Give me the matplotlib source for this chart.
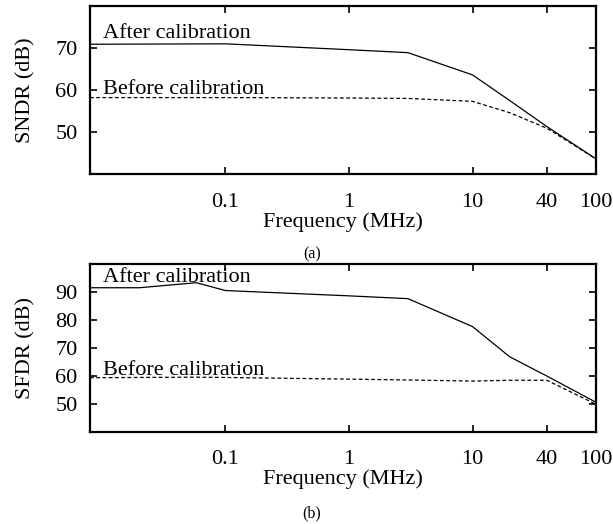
import matplotlib
matplotlib.use("Agg")
import matplotlib.pyplot as plt
import numpy as np

# frequencies in MHz
freq_sndr = [0.008, 0.1, 1, 3, 10, 20, 40, 100]
sndr_after = [70.9, 71.0, 69.6, 68.9, 63.6, 57.5, 51.3, 43.6]
sndr_before = [58.2, 58.2, 58.1, 58.0, 57.3, 54.6, 50.9, 43.6]

freq_sfdr = [0.008, 0.02, 0.058, 0.1, 1, 3, 10, 20, 40, 100]
sfdr_after = [91.5, 91.5, 93.3, 90.5, 88.6, 87.6, 77.6, 66.8, 59.9, 50.5]
sfdr_before = [59.3, 59.4, 59.5, 59.4, 58.8, 58.5, 58.1, 58.4, 58.4, 49.8]

xticks = [0.1, 1, 10, 40, 100]
xticklabels = ["0.1", "1", "10", "40", "100"]

plt.rcParams['font.family'] = ['Liberation Serif', 'DejaVu Serif']
plt.rcParams['font.size'] = 16


def setup(ax, ylim, yticks, ylabel):
    ax.set_xscale('log')
    ax.set_xlim(0.008, 100)
    ax.set_ylim(*ylim)
    ax.set_xticks(xticks)
    ax.set_xticklabels(xticklabels)
    ax.xaxis.set_minor_locator(matplotlib.ticker.NullLocator())
    ax.set_yticks(yticks)
    ax.tick_params(direction='in', top=True, right=True, length=5, width=1.2)
    ax.tick_params(axis='x', pad=13.5)
    ax.tick_params(axis='y', pad=9)
    for s in ax.spines.values():
        s.set_linewidth(1.6)
    ax.set_xlabel("Frequency (MHz)", labelpad=0)
    ax.set_ylabel(ylabel, labelpad=14)


def main():
    fig = plt.figure(figsize=(6.13, 5.24), dpi=100)
    ax1 = fig.add_axes([0.1468, 0.6679, 0.8255, 0.3206])
    ax2 = fig.add_axes([0.1468, 0.1762, 0.8255, 0.3200])

    ax1.plot(freq_sndr, sndr_after, color='black', lw=0.9)
    ax1.plot(freq_sndr, sndr_before, color='black', lw=0.9, ls=(0, (3, 2)))
    setup(ax1, (40, 80), [50, 60, 70], "SNDR (dB)")
    ax1.text(0.0102, 72.4, "After calibration", va='baseline')
    ax1.text(0.0102, 59.1, "Before calibration", va='baseline')

    ax2.plot(freq_sfdr, sfdr_after, color='black', lw=0.9)
    ax2.plot(freq_sfdr, sfdr_before, color='black', lw=0.9, ls=(0, (3, 2)))
    setup(ax2, (40, 100), [50, 60, 70, 80, 90], "SFDR (dB)")
    ax2.text(0.0102, 93.6, "After calibration", va='baseline')
    ax2.text(0.0102, 60.25, "Before calibration", va='baseline')

    fig.text(312 / 613, 1 - 254 / 524, "(a)", ha='center', va='center', fontsize=11.5)
    fig.text(312 / 613, 1 - 513 / 524, "(b)", ha='center', va='center', fontsize=11.5)

    plt.savefig('out.png', dpi=100)


if __name__ == "__main__":
    main()
